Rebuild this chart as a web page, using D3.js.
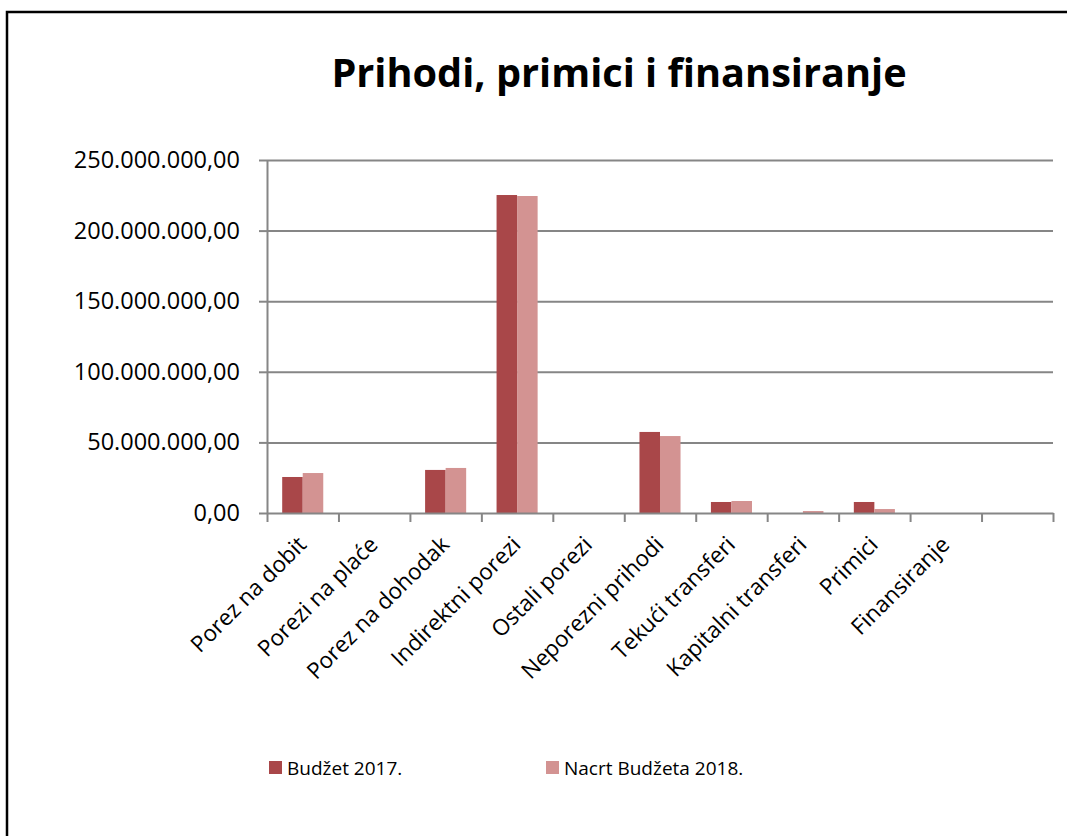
<!DOCTYPE html>
<html>
<head>
<meta charset="utf-8">
<style>
	body { margin: 0; background: #fff; }
	svg { font-family: "Open Sans", Lato, sans-serif; }
	.axis path, .axis line { stroke: #868686; stroke-width: 2px; }
	.grid line { stroke: #868686; stroke-width: 2px; }
	.grid path { display: none; }
</style>
<script src="https://d3js.org/d3.v7.min.js"></script>
</head>
<body>
<script>
var categories = ["Porez na dobit", "Porezi na plaće", "Porez na dohodak", "Indirektni porezi",
	"Ostali porezi", "Neporezni prihodi", "Tekući transferi", "Kapitalni transferi",
	"Primici", "Finansiranje", ""];
var seriesNames = ["Budžet 2017.", "Nacrt Budžeta 2018."];
var budzet2017 = [25500000, 0, 30500000, 225200000, 0, 57400000, 7800000, 0, 7800000, 0, 0];
var nacrt2018 = [28300000, 0, 31900000, 224500000, 0, 54500000, 8500000, 1400000, 2800000, 0, 0];
var yTicks = [0, 50000000, 100000000, 150000000, 200000000, 250000000];
var colors = ["#a94749", "#d39392"];

function draw() {
	"use strict";
	var width = 1067, height = 836;
	var left = 267, right = 1053, top = 160, bottom = 513;

	var svg = d3.select("body").append("svg")
		.attr("width", width)
		.attr("height", height);

	// frame
	svg.append("rect")
		.attr("x", 7).attr("y", 12)
		.attr("width", width + 20).attr("height", height + 20)
		.attr("fill", "none").attr("stroke", "#000").attr("stroke-width", 2.5);

	svg.append("text")
		.attr("x", 619).attr("y", 87)
		.attr("text-anchor", "middle")
		.attr("font-size", 39.7).attr("font-weight", "bold")
		.text("Prihodi, primici i finansiranje");

	var x = d3.scaleBand().domain(d3.range(categories.length)).range([left, right]);
	var x1 = d3.scaleBand().domain([0, 1]).range([0, x.bandwidth()]).paddingOuter(0.74).paddingInner(0);
	var y = d3.scaleLinear().domain([0, 250000000]).range([bottom, top]);

	var fmt = function (v) {
		return d3.format(",.2f")(v).replace(/,/g, " ").replace(".", ",").replace(/ /g, ".");
	};

	// grid
	svg.append("g").attr("class", "grid")
		.attr("transform", "translate(" + left + ",0)")
		.call(d3.axisLeft(y).tickValues(yTicks.slice(1)).tickSize(-(right - left)).tickFormat(""));

	var series = [budzet2017, nacrt2018];
	svg.append("g").selectAll("g")
		.data(series)
		.enter().append("g")
		.attr("fill", function (d, i) { return colors[i]; })
		.each(function (vals, si) {
			d3.select(this).selectAll("rect")
				.data(vals)
				.enter().append("rect")
				.attr("x", function (d, i) { return x(i) + x1(si); })
				.attr("width", x1.bandwidth())
				.attr("y", function (d) { return y(d); })
				.attr("height", function (d) { return bottom - y(d); });
		});

	// y axis
	var ya = svg.append("g").attr("class", "axis")
		.attr("transform", "translate(" + left + ",0)")
		.call(d3.axisLeft(y).tickValues(yTicks).tickSize(8).tickSizeOuter(0).tickPadding(19).tickFormat(fmt));
	ya.selectAll("text").attr("font-size", 23.5).attr("fill", "#000").style("font-family", "'Open Sans', sans-serif");

	// x axis
	var xs = d3.scaleLinear().domain([0, categories.length]).range([left, right]);
	svg.append("g").attr("class", "axis")
		.attr("transform", "translate(0," + bottom + ")")
		.call(d3.axisBottom(xs).tickValues(d3.range(categories.length + 1)).tickSize(9).tickSizeOuter(0).tickFormat(""));

	svg.append("g").selectAll("text")
		.data(categories)
		.enter().append("text")
		.attr("transform", function (d, i) {
			return "translate(" + (x(i) + x.bandwidth() / 2 + 5) + "," + 546 + ") rotate(-45)";
		})
		.attr("text-anchor", "end")
		.attr("font-size", 22.5)
		.text(function (d) { return d; });

	// legend
	var lg = svg.append("g").selectAll("g")
		.data(seriesNames)
		.enter().append("g")
		.attr("transform", function (d, i) { return "translate(" + [269, 546][i] + ",761)"; });
	lg.append("rect").attr("width", 13).attr("height", 13).attr("fill", function (d, i) { return colors[i]; });
	lg.append("text").attr("x", 18).attr("y", 14).attr("font-size", 19).text(function (d) { return d; });
}
draw();
</script>
</body>
</html>
